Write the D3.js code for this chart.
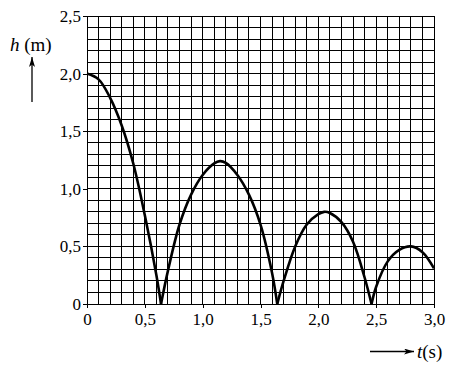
<!DOCTYPE html>
<html>
<head>
<meta charset="utf-8">
<script src="https://cdn.jsdelivr.net/npm/d3@7"></script>
<style>
  body { margin: 0; background: #fff; }
  svg { display: block; }
</style>
</head>
<body>
<svg id="chart" width="465" height="374"></svg>
<script>
// values: time t (s) and height h (m), one array pair per bounce arc
const arc1T = [0, 0.1, 0.2, 0.3, 0.4, 0.5, 0.6, 0.64];
const arc1H = [2.0, 1.95, 1.79, 1.55, 1.22, 0.77, 0.25, 0];
const arc2T = [0.64, 0.7, 0.8, 0.9, 1.0, 1.1, 1.15, 1.2, 1.3, 1.4, 1.5, 1.6, 1.645];
const arc2H = [0, 0.29, 0.69, 0.95, 1.12, 1.22, 1.24, 1.225, 1.12, 0.95, 0.69, 0.27, 0];
const arc3T = [1.645, 1.7, 1.8, 1.9, 2.0, 2.05, 2.1, 2.2, 2.3, 2.4, 2.46];
const arc3H = [0, 0.2, 0.50, 0.69, 0.78, 0.80, 0.79, 0.71, 0.54, 0.23, 0];
const arc4T = [2.46, 2.5, 2.6, 2.7, 2.8, 2.9, 3.0];
const arc4H = [0, 0.15, 0.37, 0.47, 0.50, 0.45, 0.31];

const xTicks = [0, 0.5, 1.0, 1.5, 2.0, 2.5, 3.0];
const xTickLabels = ["0", "0,5", "1,0", "1,5", "2,0", "2,5", "3,0"];
const yTicks = [0, 0.5, 1.0, 1.5, 2.0, 2.5];
const yTickLabels = ["0", "0,5", "1,0", "1,5", "2,0", "2,5"];

const FONT = "'Liberation Serif', serif";

const svg = d3.select("#chart");

const x = d3.scaleLinear().domain([0, 3]).range([87, 434]);
const y = d3.scaleLinear().domain([0, 2.5]).range([304, 16]);

// fine grid, 0.1 per cell
const grid = svg.append("g").attr("stroke", "#000").attr("stroke-width", 1)
  .attr("shape-rendering", "crispEdges");
grid.selectAll(".vx").data(d3.range(0, 31)).enter().append("line")
  .attr("x1", d => x(d / 10)).attr("x2", d => x(d / 10))
  .attr("y1", y(0)).attr("y2", y(2.5));
grid.selectAll(".hy").data(d3.range(0, 26)).enter().append("line")
  .attr("x1", x(0)).attr("x2", x(3))
  .attr("y1", d => y(d / 10)).attr("y2", d => y(d / 10));

// axes
const xAxis = svg.append("g")
  .attr("transform", "translate(0," + y(0) + ")")
  .call(d3.axisBottom(x).tickValues(xTicks).tickSize(4).tickPadding(5)
    .tickFormat((d, i) => xTickLabels[i]));
const yAxis = svg.append("g")
  .attr("transform", "translate(" + x(0) + ",0)")
  .call(d3.axisLeft(y).tickValues(yTicks).tickSize(4).tickPadding(2)
    .tickFormat((d, i) => yTickLabels[i]));
[xAxis, yAxis].forEach(a => {
  a.select(".domain").remove();
  a.selectAll(".tick line").attr("stroke", "#000").attr("stroke-width", 1)
    .attr("shape-rendering", "crispEdges");
  a.selectAll(".tick text").attr("fill", "#000")
    .style("font-family", FONT).style("font-size", "17px");
});

// curve
const line = d3.line()
  .x(d => x(d[0])).y(d => y(d[1]))
  .curve(d3.curveCatmullRom.alpha(0.5));
[[arc1T, arc1H], [arc2T, arc2H], [arc3T, arc3H], [arc4T, arc4H]].forEach(([ts, hs]) => {
  svg.append("path")
    .datum(ts.map((t, i) => [t, hs[i]]))
    .attr("d", line)
    .attr("fill", "none")
    .attr("stroke", "#000")
    .attr("stroke-width", 2.6);
});

// arrow marker
svg.append("defs").append("marker")
  .attr("id", "arr").attr("viewBox", "0 0 10 6")
  .attr("refX", 10).attr("refY", 3)
  .attr("markerWidth", 10).attr("markerHeight", 6)
  .attr("markerUnits", "userSpaceOnUse")
  .attr("orient", "auto")
  .append("path").attr("d", "M0,0 L10,3 L0,6 L2.5,3 Z").attr("fill", "#000");

// h (m) label with arrow
const hLab = svg.append("text").attr("x", 10).attr("y", 51)
  .style("font-family", FONT).style("font-size", "19px");
hLab.append("tspan").style("font-style", "italic").text("h");
hLab.append("tspan").text(" (m)");
svg.append("line")
  .attr("x1", 32).attr("y1", 102).attr("x2", 32).attr("y2", 57)
  .attr("stroke", "#000").attr("stroke-width", 1.3)
  .attr("marker-end", "url(#arr)");

// t (s) label with arrow
svg.append("line")
  .attr("x1", 370).attr("y1", 351.5).attr("x2", 414).attr("y2", 351.5)
  .attr("stroke", "#000").attr("stroke-width", 1.3)
  .attr("marker-end", "url(#arr)");
const tLab = svg.append("text").attr("x", 417).attr("y", 358)
  .style("font-family", FONT).style("font-size", "19px");
tLab.append("tspan").style("font-style", "italic").text("t");
tLab.append("tspan").text("(s)");
</script>
</body>
</html>
